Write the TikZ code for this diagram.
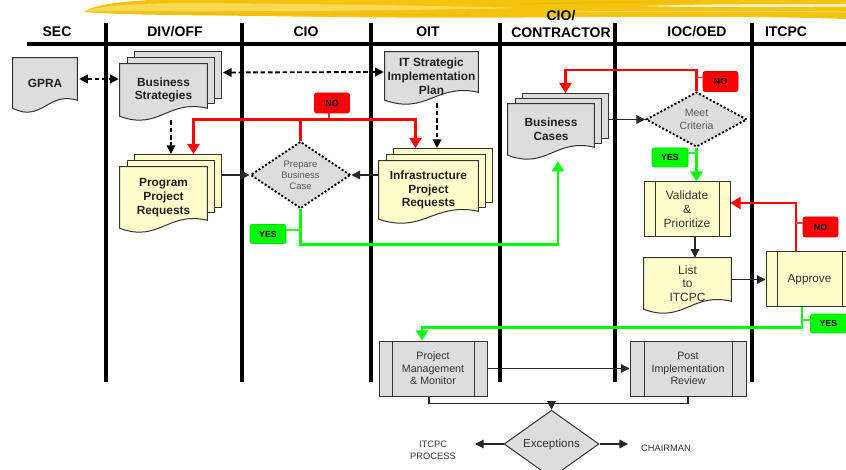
\documentclass[tikz,border=0pt]{standalone}
\usepackage{fontspec}
\setmainfont{Liberation Sans}
\usetikzlibrary{arrows.meta,shapes.geometric,calc}

\pgfdeclarelayer{lanes}
\pgfdeclarelayer{shapes}
\pgfsetlayers{lanes,shapes,main}

\definecolor{boxgray}{HTML}{DDDDDD}
\definecolor{boxyellow}{HTML}{FFFFCC}
\definecolor{edgegray}{HTML}{333333}
\definecolor{flowred}{HTML}{FF0000}
\definecolor{flowgreen}{HTML}{00FF00}
\definecolor{brushgold}{HTML}{F4C30E}
\definecolor{brushlight}{HTML}{F9D954}
\definecolor{brushdark}{HTML}{EDB400}

% one pixel of the drawing grid
\newcommand{\upx}{0.75pt}

% document symbol: flat top, wavy bottom (left end = node south)
\newcommand{\docoutline}[2]{%
  \begin{pgfonlayer}{shapes}
    \filldraw[shapeline, fill=#2]
      let \p1=(#1.south west), \p2=(#1.north east), \n1={\x2-\x1} in
      (\x1,\y2) -- (\x2,\y2) -- (\x2,\y1+6pt)
      .. controls (\x1+0.55*\n1,\y1+13pt) and (\x1+0.45*\n1,\y1-11pt) .. (\x1,\y1) -- cycle;
  \end{pgfonlayer}}

\tikzset{
  shapeline/.style={draw=edgegray, line width=0.75pt},
  lanehead/.style={inner sep=0pt, align=center, font=\bfseries\fontsize{10.5}{12.75}\selectfont},
  laneline/.style={line width=2.6pt, draw=black},
  headline/.style={line width=2.4pt, draw=black},
  docnode/.style={rectangle, inner sep=0pt, align=center, text=black!88,
    font=\bfseries\fontsize{8.9}{10.4}\selectfont},
  sheet/.style={rectangle, anchor=north west, shapeline, fill=#1, inner sep=0pt},
  procbox/.style={rectangle, shapeline, inner sep=0pt, align=center, text=black!80,
    font=\fontsize{9}{10.5}\selectfont,
    path picture={\draw[shapeline]
      ([xshift=#1]path picture bounding box.north west) -- ([xshift=#1]path picture bounding box.south west)
      ([xshift=-#1]path picture bounding box.north east) -- ([xshift=-#1]path picture bounding box.south east);}},
  procbox/.default=8pt,
  decision/.style={diamond, draw=black, line width=1.4pt, dash pattern=on 1.5pt off 1.5pt,
    fill=boxgray, inner sep=0pt, align=center, text=black!65,
    font=\fontsize{7.1}{8.25}\selectfont},
  nobox/.style={rectangle, rounded corners=1.5pt, fill=flowred, draw=flowred!90!black, line width=0.4pt,
    minimum width=35*\upx, minimum height=20*\upx, inner sep=0pt,
    font=\bfseries\fontsize{6.6}{7}\selectfont},
  yesbox/.style={rectangle, rounded corners=1.5pt, fill=flowgreen, draw=flowgreen!85!black, line width=0.4pt,
    minimum width=36*\upx, minimum height=19*\upx, inner sep=0pt,
    font=\bfseries\fontsize{6.6}{7}\selectfont},
  flow/.style={draw=black!85, line width=0.8pt, -{Triangle[length=6.5pt,width=6.5pt]}},
  plainflow/.style={draw=black!85, line width=0.8pt},
  dashflow/.style={draw=black, line width=1.4pt, dash pattern=on 3.5pt off 2pt,
    -{Triangle[length=6.5pt,width=6.5pt]}},
  dashboth/.style={dashflow, {Triangle[length=6.5pt,width=6.5pt]}-{Triangle[length=6.5pt,width=6.5pt]}},
  redflow/.style={draw=flowred, line width=1.6pt, -{Triangle[length=7.5pt,width=9pt]}},
  redline/.style={draw=flowred, line width=1.6pt},
  greenflow/.style={draw=flowgreen, line width=1.6pt, -{Triangle[length=7.5pt,width=9pt]}},
  redstem/.style={draw=flowred!80!white, line width=0.9pt},
  greenstem/.style={draw=flowgreen!85!white, line width=0.9pt},
  smalltext/.style={inner sep=0pt, align=center, text=black!80, font=\fontsize{7}{9}\selectfont}
}

\begin{document}
\begin{tikzpicture}[x=0.75pt, y=-0.75pt]
\useasboundingbox (0,0) rectangle (846,470);

% ---------- highlighter stroke across the top ----------
\begin{pgfonlayer}{lanes}
  \fill[brushgold] (84,12) .. controls (92,6) and (112,2) .. (150,0) -- (846,0) -- (846,19)
    .. controls (760,16) and (690,17) .. (600,17) .. controls (480,18) and (380,18) .. (260,16)
    .. controls (180,15) and (120,15) .. (84,12) -- cycle;
  \fill[brushlight] (86,11) .. controls (100,6) and (130,3) .. (200,3)
    .. controls (300,4) and (420,5) .. (520,8) .. controls (420,10) and (300,12) .. (86,11) -- cycle;
  \fill[white, opacity=0.75] (640,6) .. controls (700,4) and (780,4) .. (846,4) -- (846,6.5)
    .. controls (780,7) and (700,8) .. (640,6) -- cycle;
  \draw[brushdark, line width=0.8pt, opacity=0.6] (160,13) .. controls (300,14) .. (470,15);
  \draw[brushdark, line width=0.8pt, opacity=0.6] (520,4) .. controls (620,2) .. (700,2);
  \draw[brushlight, line width=0.8pt] (560,12) .. controls (700,11) .. (846,12);

  % swim lane frame
  \draw[headline] (27,44) -- (846,44);
  \foreach \lx in {106,242,371,500,615,752}
    \draw[laneline] (\lx,23) -- (\lx,382);
\end{pgfonlayer}

% ---------- lane headings ----------
\node[lanehead] (h-sec) at (57,32) {SEC};
\node[lanehead] (h-div) at (175,32) {DIV/OFF};
\node[lanehead] (h-cio) at (306,32) {CIO};
\node[lanehead] (h-oit) at (428,32) {OIT};
\node[lanehead] (h-con) at (561,23.5) {CIO/\\CONTRACTOR};
\node[lanehead] (h-ioc) at (697,32) {IOC/OED};
\node[lanehead] (h-itc) at (786,32) {ITCPC};

% ---------- SEC ----------
\node[docnode, minimum width=64*\upx, minimum height=50*\upx] (gpra) at (45,83) {GPRA};
\docoutline{gpra}{boxgray}

% ---------- DIV/OFF ----------
\begin{pgfonlayer}{shapes}
  \node[sheet=boxgray, minimum width=87*\upx, minimum height=47*\upx] (bs-l2) at (134,51) {};
  \node[sheet=boxgray, minimum width=87*\upx, minimum height=45.5*\upx] (bs-l1) at (127,57.5) {};
\end{pgfonlayer}
\node[docnode, minimum width=87*\upx, minimum height=52*\upx] (bs) at (163.5,90) {Business\\Strategies};
\docoutline{bs}{boxgray}

\begin{pgfonlayer}{shapes}
  \node[sheet=boxyellow, minimum width=87*\upx, minimum height=53*\upx] (ppr-l2) at (134,154) {};
  \node[sheet=boxyellow, minimum width=87*\upx, minimum height=51.5*\upx] (ppr-l1) at (127,160.5) {};
\end{pgfonlayer}
\node[docnode, minimum width=87*\upx, minimum height=61*\upx] (ppr) at (163.5,197.5) {Program\\Project\\Requests};
\docoutline{ppr}{boxyellow}

% ---------- CIO ----------
\node[decision, minimum width=100*\upx, minimum height=54*\upx] (prep) at (300.5,175) {Prepare\\Business\\Case};

% ---------- OIT ----------
\node[docnode, minimum width=93*\upx, minimum height=48*\upx] (its) at (431.5,76) {IT Strategic\\Implementation\\Plan};
\docoutline{its}{boxgray}

\begin{pgfonlayer}{shapes}
  \node[sheet=boxyellow, minimum width=99*\upx, minimum height=54*\upx] (ipr-l2) at (393,148) {};
  \node[sheet=boxyellow, minimum width=99*\upx, minimum height=52.5*\upx] (ipr-l1) at (386,154.5) {};
\end{pgfonlayer}
\node[docnode, minimum width=99*\upx, minimum height=58*\upx] (ipr) at (428.5,190) {Infrastructure\\Project\\Requests};
\docoutline{ipr}{boxyellow}

\node[procbox=13*\upx, fill=boxgray, font=\fontsize{8}{9.4}\selectfont,
  minimum width=108*\upx, minimum height=55*\upx] (pm) at (433,368.5) {Project\\Management\\\& Monitor};

% ---------- CIO / CONTRACTOR ----------
\begin{pgfonlayer}{shapes}
  \node[sheet=boxgray, minimum width=86*\upx, minimum height=45*\upx] (bc-l2) at (522,93) {};
  \node[sheet=boxgray, minimum width=86*\upx, minimum height=44.5*\upx] (bc-l1) at (515,98.5) {};
\end{pgfonlayer}
\node[docnode, minimum width=86*\upx, minimum height=51*\upx] (bc) at (551,129.5) {Business\\Cases};
\docoutline{bc}{boxgray}

% ---------- IOC/OED ----------
\node[decision, font=\fontsize{7.9}{9.75}\selectfont, minimum width=101*\upx, minimum height=55*\upx]
  (meet) at (696.5,119.5) {Meet\\Criteria};
\node[procbox=11*\upx, fill=boxyellow, minimum width=86*\upx, minimum height=55*\upx]
  (val) at (687,209.5) {Validate\\\&\\Prioritize};
\node[docnode, text=black!80, font=\fontsize{9}{10.2}\selectfont,
  minimum width=87*\upx, minimum height=51*\upx] (lst) at (687.5,283.5) {List\\to\\ITCPC};
\docoutline{lst}{boxyellow}
\node[procbox=14*\upx, fill=boxgray, font=\fontsize{8}{9.4}\selectfont,
  minimum width=116*\upx, minimum height=55*\upx] (pir) at (688,368.5) {Post\\Implementation\\Review};

% ---------- ITCPC ----------
\node[procbox=11*\upx, fill=boxyellow, font=\fontsize{8.8}{10.5}\selectfont,
  minimum width=87*\upx, minimum height=55*\upx] (appr) at (809.5,279.5) {Approve};

% ---------- exceptions ----------
\node[diamond, shapeline, fill=boxgray, inner sep=0pt, text=black!80, font=\fontsize{8.7}{10}\selectfont,
  minimum width=95*\upx, minimum height=52*\upx] (exc) at (551.5,444) {Exceptions};
\node[smalltext] (itcpcproc) at (433,450) {ITCPC\\PROCESS};
\node[smalltext] (chair) at (666,448) {CHAIRMAN};
\coordinate (toproc) at (475,444);
\coordinate (tochair) at (628,444);

% ---------- connectors ----------
\draw[dashboth] ($(gpra.east)+(2,-4)$) -- ($(bs.west)+(-1,-11)$);
\draw[dashboth] ($(bs-l2.east)+(1,-2.5)$) -- ($(its.west)+(-1,-4)$);
\coordinate (bsdown) at ($(bs.south)+(7.5,4)$);
\draw[dashflow] (bsdown) -- (bsdown |- ppr-l2.north);
\coordinate (itdown) at ($(its.south)+(5.5,3)$);
\draw[dashflow] (itdown) -- (itdown |- ipr-l2.north);

\draw[redline] (prep.north) -- ++(0,-21) coordinate (rj);
\draw[redflow] (rj) -| ($(ppr-l2.north)+(15.5,0)$);
\draw[redflow] (rj) -| ($(ipr-l2.north)+(-27.5,0)$);

\draw[flow] (ppr-l2.east |- prep.west) -- (prep.west);
\draw[flow] (ipr.west |- prep.east) -- (prep.east);

\draw[greenflow] (prep.south) -- ++(0,35) -| ($(bc.south)+(7,6)$);

\draw[flow] (bc-l2.east |- meet.west) -- (meet.west);
\draw[redflow] (meet.north) -- ++(0,-21) -| (bc-l2.north);
\draw[greenflow] (meet.south) -- (meet.south |- val.north);
\draw[flow] ($(val.south)+(8,0)$) -- ($(lst.north)+(7.5,0)$);
\draw[flow] (lst.east |- appr.west) -- (appr.west);

\coordinate (apptop) at ($(appr.north)+(-13.5,0)$);
\draw[redflow] (apptop) |- ($(val.east)+(0,-6.5)$);
\coordinate (appbot) at ($(appr.south)+(-7.5,0)$);
\draw[greenflow] (appbot) -- ++(0,20) -| ($(pm.north)+(-11,0)$);

\draw[flow] (pm.east) -- (pir.west);
\draw[plainflow] ($(pm.south)+(-4,0)$) -- ++(0,7) coordinate (bus) -| (pir.south);
\draw[flow] (bus -| exc.north) -- (exc.north);
\draw[flow] (exc.west) -- (toproc);
\draw[flow] (exc.east) -- (tochair);

% ---------- decision labels ----------
\node[nobox] (no1) at (332,103) {NO};
\coordinate (no1s) at ($(no1.south)+(-3,0)$);
\begin{pgfonlayer}{shapes}
  \draw[redstem] (no1s) -- (no1s |- rj);
\end{pgfonlayer}
\node[nobox] (no2) at (720.5,81.5) {NO};
\coordinate (no2s) at ($(no2.west)+(0,-4)$);
\draw[redstem] (no2s) -- (no2s -| meet.north);
\node[nobox] (no3) at (820.5,227) {NO};
\coordinate (no3s) at ($(no3.west)+(0,-4)$);
\draw[redstem] (no3s) -- (no3s -| apptop);

\node[yesbox] (yes1) at (268,234) {YES};
\coordinate (yes1s) at ($(yes1.east)+(0,-4)$);
\draw[greenstem] (yes1s) -- (yes1s -| prep.south);
\node[yesbox] (yes2) at (670,157.5) {YES};
\coordinate (yes2s) at ($(yes2.east)+(0,-4.5)$);
\draw[greenstem] (yes2s) -- (yes2s -| meet.south);
\node[yesbox] (yes3) at (828.5,323.5) {YES};
\coordinate (yes3s) at ($(yes3.west)+(0,-3.5)$);
\draw[greenstem] (yes3s) -- (yes3s -| appbot);
\end{tikzpicture}
\end{document}
